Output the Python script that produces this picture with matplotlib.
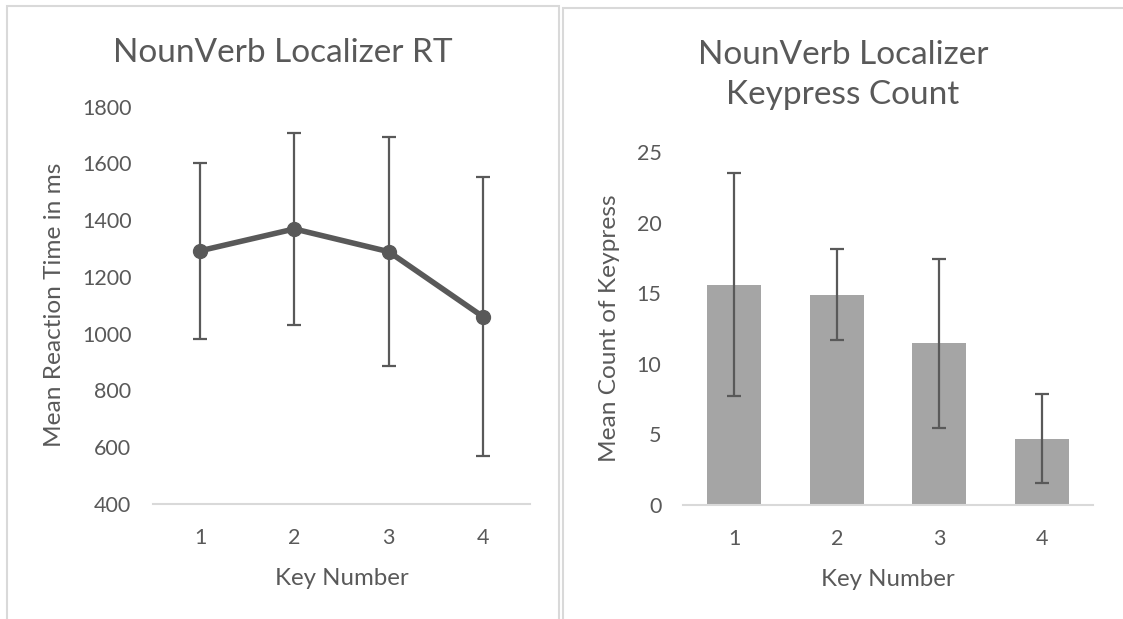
import matplotlib
matplotlib.use("Agg")
import matplotlib.pyplot as plt
from matplotlib.patches import Rectangle

plt.rcParams['font.family'] = ['Lato', 'DejaVu Sans']

keys = [1, 2, 3, 4]
key_labels = ['1', '2', '3', '4']

rt_mean = [1292, 1369, 1289, 1060]
rt_err = [311, 339, 403, 492]

count_mean = [15.6, 14.9, 11.45, 4.7]
count_err = [7.9, 3.23, 5.97, 3.15]

TXT = '#595959'
AX = '#D9D9D9'
W, H = 1123, 619
fig = plt.figure(figsize=(W / 100, H / 100), dpi=100)

def px_axes(x0, x1, ytop, ybot):
    return fig.add_axes([x0 / W, 1 - ybot / H, (x1 - x0) / W, (ybot - ytop) / H])

# panel borders
for (x0, x1, y0) in [(7, 559, 6), (563, 1126, 8)]:
    fig.patches.append(Rectangle((x0 / W, -0.05), (x1 - x0) / W, 1.05 - y0 / H,
                                 transform=fig.transFigure, fill=False,
                                 edgecolor='#D9D9D9', linewidth=1.5))

def style(ax):
    for s in ['top', 'right', 'left']:
        ax.spines[s].set_visible(False)
    ax.spines['bottom'].set_color(AX)
    ax.spines['bottom'].set_linewidth(1.5)
    ax.tick_params(axis='both', length=0, colors=TXT, labelsize=15.5)
    ax.tick_params(axis='x', pad=17)
    ax.tick_params(axis='y', pad=15.5)
    ax.set_xlim(0.5, 4.5)
    ax.set_xticks(keys)
    ax.set_xticklabels(key_labels)
    ax.set_facecolor('none')

# left chart
ax1 = px_axes(153, 530, 106.6, 504)
ax1.errorbar(keys, rt_mean, yerr=rt_err, color='#595959', linewidth=4,
             marker='o', markersize=10, ecolor='#595959', elinewidth=1.6,
             capsize=5, capthick=1.6)
ax1.set_ylim(400, 1800)
ax1.set_yticks(range(400, 1801, 200))
style(ax1)
ax1.set_xlabel('Key Number', color=TXT, fontsize=17.3, labelpad=15)
ax1.set_ylabel('Mean Reaction Time in ms', color=TXT, fontsize=17.6, labelpad=12)
fig.text(283 / W, 1 - 53 / H, 'NounVerb Localizer RT', ha='center', va='center',
         color=TXT, fontsize=24)

# right chart
ax2 = px_axes(683, 1093, 152, 505)
ax2.bar(keys, count_mean, width=0.53, color='#A5A5A5', zorder=2)
ax2.errorbar(keys, count_mean, yerr=count_err, fmt='none', ecolor='#595959',
             elinewidth=1.6, capsize=5, capthick=1.6, zorder=3)
ax2.set_ylim(0, 25)
ax2.set_yticks(range(0, 26, 5))
style(ax2)
ax2.set_xlabel('Key Number', color=TXT, fontsize=17.3, labelpad=15)
ax2.set_ylabel('Mean Count of Keypress', color=TXT, fontsize=17.6, labelpad=12)
fig.text(843 / W, 1 - 75 / H, 'NounVerb Localizer\nKeypress Count', ha='center',
         va='center', color=TXT, fontsize=24, linespacing=1.4)

fig.savefig('out.png', dpi=100, facecolor='white')
